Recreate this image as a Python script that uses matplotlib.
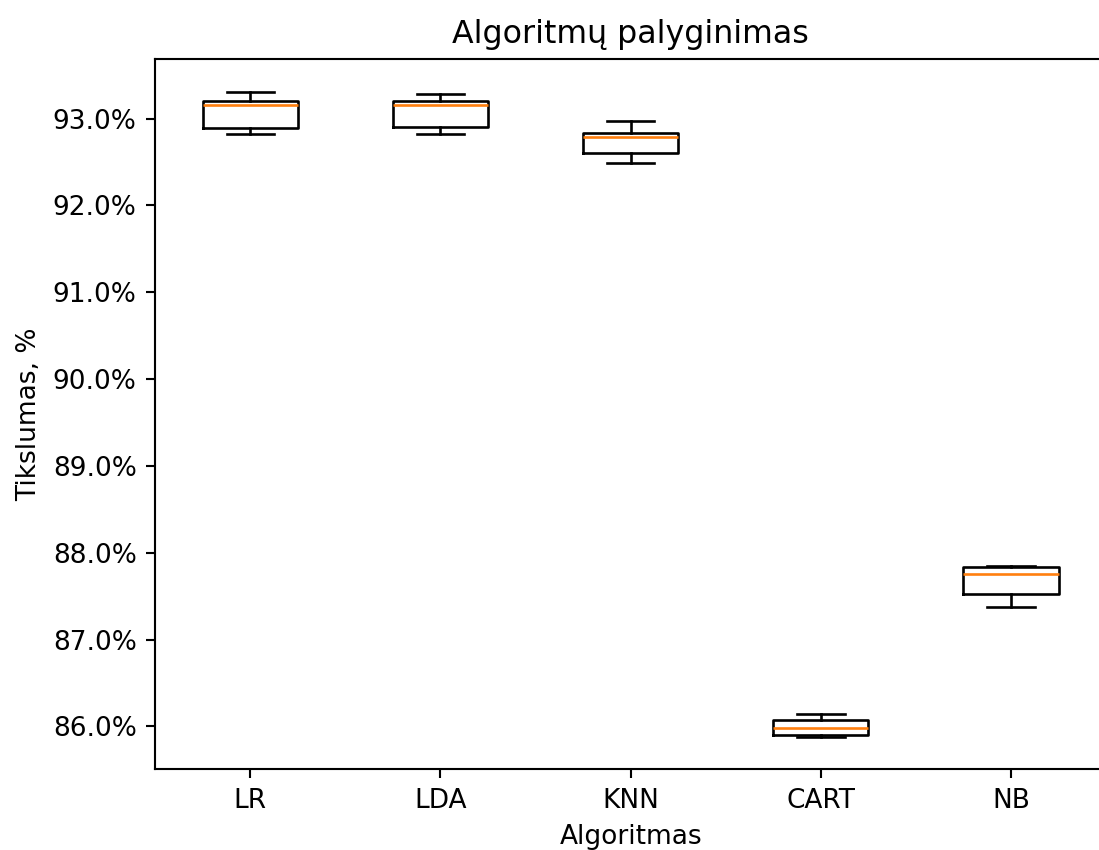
import matplotlib
matplotlib.use("Agg")
import matplotlib.pyplot as plt
from matplotlib.ticker import FuncFormatter

# Cross-validation accuracy summaries (%), one entry per algorithm
algorithms = ["LR", "LDA", "KNN", "CART", "NB"]
whisker_low = [92.824, 92.824, 92.486, 85.877, 87.379]
q1 = [92.889, 92.897, 92.601, 85.895, 87.525]
median = [93.157, 93.157, 92.782, 85.985, 87.757]
q3 = [93.203, 93.203, 92.839, 86.077, 87.833]
whisker_high = [93.310, 93.284, 92.977, 86.138, 87.845]

DPI = 190
fig = plt.figure(figsize=(1099 / DPI, 850 / DPI), dpi=DPI)
# the plotting area runs slightly past the right edge of the canvas
ax = fig.add_axes([0.1412, 0.0949, 0.8653, 0.8353])

stats = []
for name, lo, a, m, b, hi in zip(algorithms, whisker_low, q1, median, q3, whisker_high):
    stats.append(dict(label=name, whislo=lo, q1=a, med=m, q3=b, whishi=hi, fliers=[]))

ax.bxp(stats, showfliers=False)
ax.set_xlim(0.5, len(algorithms) + 0.5)
ax.spines["right"].set_visible(False)

ax.yaxis.set_major_formatter(FuncFormatter(lambda v, _: f"{v:.1f}%"))
ax.set_title("Algoritmų palyginimas")
ax.set_xlabel("Algoritmas")
ax.set_ylabel("Tikslumas, %")

fig.savefig("out.png", dpi=DPI)
